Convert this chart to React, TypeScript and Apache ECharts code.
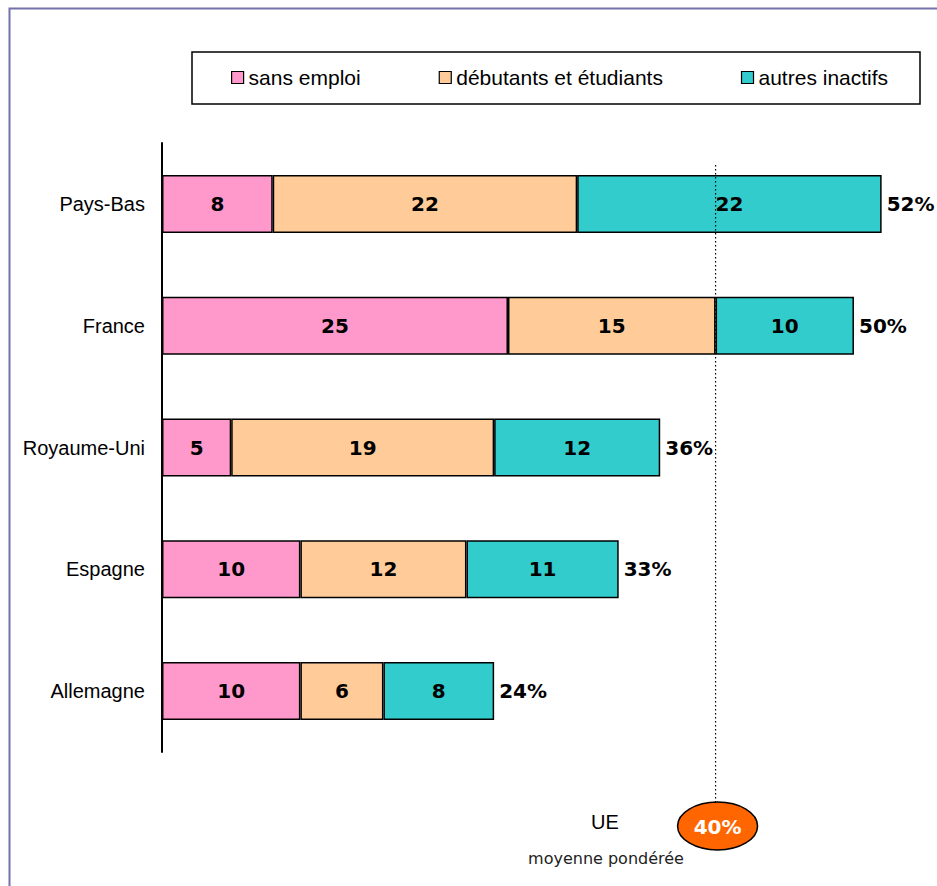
import React, { useEffect, useRef } from "react";
import * as echarts from "echarts";

const countries = ["Pays-Bas", "France", "Royaume-Uni", "Espagne", "Allemagne"];
const sansEmploi = [8, 25, 5, 10, 10];
const debutants = [22, 15, 19, 12, 6];
const autres = [22, 10, 12, 11, 8];
const totals = [52, 50, 36, 33, 24];
const euAverage = 40;
const seriesNames = ["sans emploi", "débutants et étudiants", "autres inactifs"];
const colors = ["#FF99CC", "#FFCC99", "#33CCCC"];

const NUM_FONT = "DejaVu Sans";
const TXT_FONT = "Liberation Sans";

export default function App() {
  const ref = useRef<HTMLDivElement>(null);
  useEffect(() => {
    if (!ref.current) return;
    const chart = echarts.init(ref.current, null, { renderer: "svg" });
    const mk = (name: string, data: number[], color: string) => ({
      name,
      type: "bar",
      stack: "t",
      data,
      barWidth: 58,
      itemStyle: { color, borderColor: "#000", borderWidth: 1.5 },
      label: {
        show: true,
        position: "inside",
        fontFamily: NUM_FONT,
        fontWeight: "bold",
        fontSize: 20,
        color: "#000",
      },
    });
    chart.setOption({
      animation: false,
      backgroundColor: "#fff",
      grid: { left: 162, right: 0, top: 143, bottom: 134 },
      xAxis: { type: "value", min: 0, max: 56, show: false },
      yAxis: {
        type: "category",
        data: countries,
        inverse: true,
        axisLine: { show: true, lineStyle: { color: "#000", width: 2 } },
        axisTick: { show: false },
        axisLabel: { margin: 17, fontFamily: TXT_FONT, fontSize: 20, color: "#000" },
      },
      legend: {
        data: seriesNames,
        left: 231,
        top: 67,
        padding: 0,
        itemGap: 78,
        itemWidth: 12,
        itemHeight: 12,
        icon: "rect",
        itemStyle: { borderColor: "#000", borderWidth: 1.2 },
        textStyle: { fontFamily: TXT_FONT, fontSize: 21, color: "#000" },
      },
      series: [
        mk(seriesNames[0], sansEmploi, colors[0]),
        mk(seriesNames[1], debutants, colors[1]),
        mk(seriesNames[2], autres, colors[2]),
        {
          name: "total",
          type: "bar",
          stack: "t",
          data: totals.map(() => 0),
          barWidth: 58,
          silent: true,
          itemStyle: { color: "transparent", borderWidth: 0 },
          label: {
            show: true,
            position: "right",
            distance: 5,
            formatter: (p: any) => totals[p.dataIndex] + "%",
            fontFamily: NUM_FONT,
            fontWeight: "bold",
            fontSize: 20,
            color: "#000",
          },
        },
      ],
    });
    const px = chart.convertToPixel({ xAxisIndex: 0 }, euAverage) as number;
    chart.setOption({
      graphic: [
        {
          type: "rect",
          shape: { x: 9.5, y: 8.5, width: 1000, height: 1000 },
          style: { fill: "none", stroke: "#7373AA", lineWidth: 2 },
          silent: true,
        },
        {
          type: "rect",
          shape: { x: 192, y: 52, width: 728, height: 52 },
          style: { fill: "none", stroke: "#000", lineWidth: 1.5 },
          silent: true,
          z: -1,
        },
        {
          type: "line",
          shape: { x1: px, y1: 165, x2: px, y2: 802 },
          style: { stroke: "#000", lineWidth: 1.2, lineDash: [1.5, 2.5] },
          silent: true,
          z: 100,
        },
        {
          type: "ellipse",
          shape: { cx: px + 2, cy: 826, rx: 40, ry: 24 },
          style: { fill: "#FF6600", stroke: "#000", lineWidth: 1.5 },
          silent: true,
          z: 101,
        },
        {
          type: "text",
          x: px + 2,
          y: 827,
          style: {
            text: euAverage + "%",
            fill: "#fff",
            fontFamily: NUM_FONT,
            fontWeight: "bold",
            fontSize: 20,
            align: "center",
            verticalAlign: "middle",
          },
          z: 102,
        },
        {
          type: "text",
          x: 605,
          y: 822,
          style: {
            text: "UE",
            fill: "#000",
            fontFamily: TXT_FONT,
            fontSize: 20,
            align: "center",
            verticalAlign: "middle",
          },
        },
        {
          type: "text",
          x: 606,
          y: 858,
          style: {
            text: "moyenne pondérée",
            fill: "#222",
            fontFamily: "DejaVu Sans",
            fontSize: 16,
            align: "center",
            verticalAlign: "middle",
          },
        },
      ],
    });
    return () => chart.dispose();
  }, []);
  return (
    <div
      ref={ref}
      style={{ position: "absolute", left: 0, top: 0, width: 937, height: 886 }}
    />
  );
}
